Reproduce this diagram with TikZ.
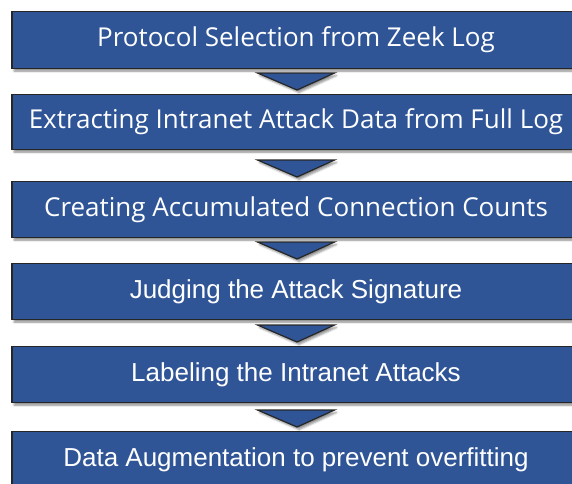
\documentclass[tikz,border=0pt]{standalone}
\usepackage{fontspec}
\usepackage{xcolor}
\usepackage{tikz}
\usetikzlibrary{calc, shadows.blur}
\newfontfamily\segoefont{Open Sans}
\newfontfamily\arialfont{Liberation Sans}
\definecolor{stepblue}{HTML}{2F5597}
\definecolor{stepedge}{HTML}{262626}

\begin{document}
\begin{tikzpicture}[
    x=1pt, y=1pt,
    stepbox/.style={
        draw=stepedge, fill=stepblue, line width=1.2pt,
        minimum width=568pt, minimum height=56pt, anchor=north,
        text=white, align=center,
        blur shadow={shadow xshift=2pt, shadow yshift=-2.5pt,
            shadow blur radius=2pt, shadow opacity=45}
    },
    segoetext/.style={font=\segoefont\fontsize{26}{30}\selectfont},
    arialtext/.style={font=\arialfont\fontsize{26}{30}\selectfont},
    flowtri/.style={
        draw=stepedge, fill=stepblue, line width=1.2pt, line join=miter,
        blur shadow={shadow xshift=2pt, shadow yshift=-2.5pt,
            shadow blur radius=2pt, shadow opacity=45}
    }
]
\useasboundingbox (0,0) rectangle (572,-483);
\clip (0,0) rectangle (572,-483);

% Steps
\node[stepbox, segoetext, minimum height=57pt] (b1) at (296,-11) {Protocol Selection from Zeek Log};
\node[stepbox, segoetext, minimum height=55pt] (b2) at (296,-94) {Extracting Intranet Attack Data from Full Log};
\node[stepbox, segoetext] (b3) at (296,-181) {Creating Accumulated Connection Counts};
\node[stepbox, arialtext] (b4) at (296,-263) {Judging the Attack Signature};
\node[stepbox, arialtext] (b5) at (296,-346) {Labeling the Intranet Attacks};
\node[stepbox, arialtext] (b6) at (296,-431) {Data Augmentation to prevent overfitting};

% Arrows between steps
\foreach \nxt in {b2,b3,b4,b5,b6}
    \draw[flowtri] ($(\nxt.north)+(-38.5,21)$) -- ($(\nxt.north)+(38.5,21)$)
        -- ($(\nxt.north)+(1,4)$) -- cycle;

\end{tikzpicture}
\end{document}
